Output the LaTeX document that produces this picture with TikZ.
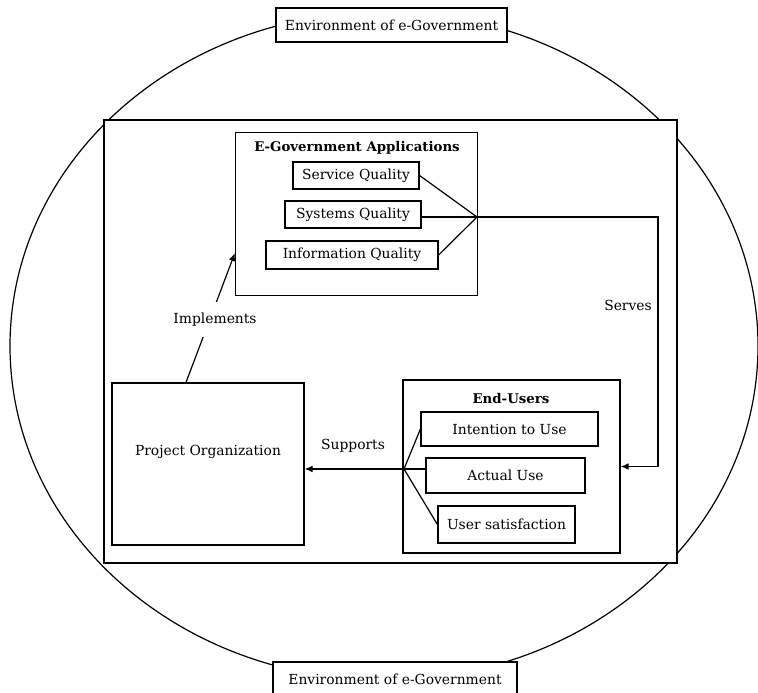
\documentclass[tikz,border=0pt]{standalone}
\usepackage{fontspec}
\setmainfont{DejaVu Serif}
\usetikzlibrary{arrows.meta,calc}
\tikzset{
  box/.style={draw, fill=white, line width=0.9pt, inner sep=0pt},
  sz/.style 2 args={minimum width=#1*0.75pt, minimum height=#2*0.75pt},
  wire/.style={line width=0.9pt},
  arr/.style={line width=0.9pt, -{Latex[length=6pt,width=5pt]}},
  ttl/.style={font=\fontsize{10}{12}\selectfont\bfseries},
}
\begin{document}
\begin{tikzpicture}[x=0.75pt,y=-0.75pt,font=\fontsize{10.4}{12}\selectfont]
  \useasboundingbox (0,0) rectangle (758,693);
  % environment
  \draw[wire] (384,346) ellipse (374 and 334);
  \node[box,sz={573}{443},line width=1.2pt] (world) at (390.5,341.5) {};
  \node[box,sz={231}{34}] (envtop) at (391.5,25) {Environment of e-Government};
  \node[box,sz={244}{34}] (envbot) at (395,679) {Environment of e-Government};
  % applications
  \node[box,sz={242}{163}] (apps) at (356.5,214) {};
  \node[ttl] (appsttl) at (357,148) {E-Government Applications};
  \node[box,sz={126}{27}] (sq) at (356,175.5) {Service Quality};
  \node[box,sz={136}{27}] (syq) at (353,214.5) {Systems Quality};
  \node[box,sz={172}{28}] (iq) at (352,255) {Information Quality};
  \coordinate (jA) at (477,217);
  \draw[wire] (sq.east) -- (jA);
  \draw[wire] (syq.east |- jA) -- (jA);
  \draw[wire] (iq.east) -- (jA);
  % project organization
  \node[box,sz={192}{162}] (po) at (208,464) {};
  \node (potxt) at (208,452) {Project Organization};
  % end-users
  \node[box,sz={217}{173}] (eu) at (511.5,466.5) {};
  \node[ttl] (euttl) at (511,399) {End-Users};
  \node[box,sz={177}{34}] (itu) at (509.5,429) {Intention to Use};
  \node[box,sz={159}{35}] (au) at (505.5,475.5) {Actual Use};
  \node[box,sz={137}{37}] (us) at (506.5,524.5) {User satisfaction};
  \coordinate (jB) at (404,469);
  \draw[wire] (jB) -- (itu.west);
  \draw[wire] (jB) -- (jB -| au.west);
  \draw[wire] (jB) -- (us.west);
  % relations
  \coordinate (turn) at (658,217);
  \draw[arr] (jA) -- (turn) |- (eu.east);
  \node (servestxt) at (628,305) {Serves};
  \draw[arr] (jB) -- (jB -| po.east);
  \node (supportstxt) at (353,446) {Supports};
  \draw[arr] ($(po.north)+(-22,0)$) -- ($(apps.west)+(0,39)$)
    node[pos=0.485, xshift=4pt, fill=white, inner xsep=2pt, inner ysep=8pt] (impltxt) {Implements};
\end{tikzpicture}
\end{document}
